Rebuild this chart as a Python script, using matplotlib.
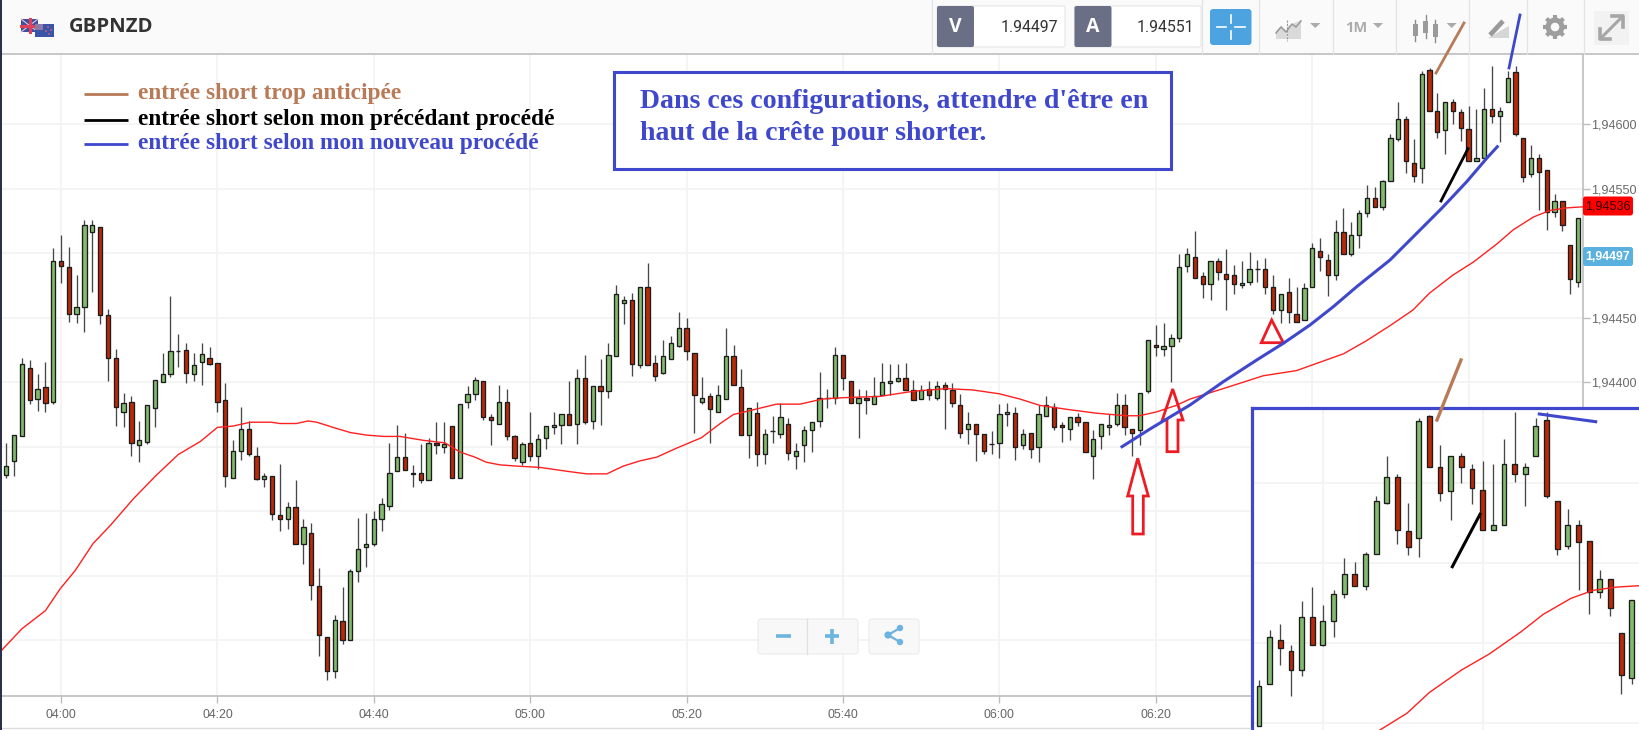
import numpy as np
import matplotlib
matplotlib.use("Agg")
import matplotlib.pyplot as plt
from matplotlib.patches import Rectangle, FancyBboxPatch, Polygon, Circle

W, H = 1639, 730
BASE, POINT = 1.94, 1e-5

# Candle values, in points above 1.94000, one candle per minute
opens = [328,339,358,411,387,396,385,494,489,453,458,516,520,452,419,377,385,351,354,380,400,406,424,425,406,416,419,415,386,326,347,364,343,325,327,297,294,303,275,283,242,203,176,215,200,254,272,275,294,304,331,
 342,330,330,324,353,350,366,326,385,391,401,373,368,385,358,338,353,343,357,365,367,375,368,403,370,397,393,420,461,464,413,474,415,407,418,428,442,423,385,389,377,387,420,396,359,376,344,362,360,368,343,
 351,363,370,388,388,421,401,384,388,383,390,399,401,403,394,387,395,388,398,394,382,364,368,360,352,353,375,376,351,361,350,374,381,367,364,373,369,343,358,365,368,382,364,363,393,429,426,428,
 434,490,497,482,476,494,484,483,475,478,488,488,474,456,470,453,448,474,502,495,483,516,499,514,531,543,536,556,588,604,570,566,642,610,595,617,609,596,571,574,612,606,617,640,589,561,574,564,532,540,506,478]
highs = [353,359,419,417,406,416,504,514,505,483,526,526,520,457,426,392,389,370,382,402,423,467,437,430,423,430,427,415,399,355,381,370,350,330,327,337,307,324,294,291,256,203,220,241,255,295,299,300,310,353,367,
 361,336,352,357,369,369,366,383,397,404,401,375,398,395,359,354,377,360,366,377,375,401,410,421,397,418,430,475,467,469,474,492,421,433,436,454,450,423,404,392,398,442,429,410,380,385,364,374,384,372,353,
 366,369,408,395,427,421,401,395,394,404,415,414,414,415,402,398,401,401,400,399,391,377,368,360,362,383,384,381,364,361,382,389,384,369,373,376,369,363,368,375,392,391,364,392,433,444,446,437,
 499,504,517,485,494,496,503,491,494,501,495,496,483,468,481,474,477,508,512,499,526,535,524,533,553,551,557,592,617,606,588,641,643,624,617,619,612,614,612,628,645,613,641,645,589,584,577,564,546,540,506,527]
lows = [326,327,358,383,378,377,383,477,447,446,439,470,445,401,366,365,343,338,352,365,400,404,412,399,401,398,413,377,319,326,340,343,324,319,293,285,286,275,259,231,188,169,171,197,200,245,257,273,285,301,331,
 332,319,322,324,344,345,326,326,380,386,371,351,368,355,339,336,339,333,348,360,352,367,352,368,364,367,388,420,445,405,411,413,401,406,418,427,417,361,383,353,377,387,398,359,341,335,337,353,357,340,333,
 338,346,365,380,383,394,384,357,375,383,390,390,400,394,386,387,386,386,364,381,357,352,339,344,344,341,366,340,348,341,338,374,363,354,355,366,346,325,348,359,366,359,343,351,392,420,420,400,
 431,485,481,465,464,479,456,468,473,475,478,468,453,446,446,447,448,474,486,467,479,499,498,504,528,536,533,556,587,562,555,554,610,589,577,600,587,571,571,574,601,586,617,591,555,559,533,518,528,517,468,474]
closes = [335,359,414,386,395,384,494,490,453,458,522,522,452,419,381,384,353,355,382,402,406,424,424,407,413,422,414,385,327,347,364,344,325,327,298,294,303,275,288,243,204,176,216,200,254,271,275,294,306,330,342,
 332,329,324,353,351,352,326,383,391,402,373,371,385,358,341,352,343,356,366,367,375,367,403,369,397,393,421,468,464,414,474,413,405,420,430,442,424,390,388,379,390,420,398,359,380,344,360,362,373,345,347,
 363,369,388,388,421,403,384,388,386,389,400,401,403,394,386,394,390,397,395,384,361,368,360,347,352,375,377,350,360,348,375,382,365,365,373,369,346,356,368,367,382,365,361,392,433,427,428,434,
 489,499,481,476,494,485,480,476,477,488,488,474,456,468,454,447,473,504,497,483,516,499,514,531,543,536,556,589,604,571,560,639,610,594,617,610,597,571,574,612,606,610,636,592,559,574,563,532,540,522,480,527]
first_minute = -7   # first candle, in minutes from 04:00

# Moving average: minutes from 04:00, points above 1.94000
ma_minutes = [-7.8,-5,-2,-0.1,1.8,4.1,6.3,9.3,12.2,15,17.8,20,22,24.2,26.9,28,30.1,31.6,32.7,34.8,37,39.1,41.2,43.35,46.3,49.1,51,52.9,54.4,56.1,58.3,61.25,64.7,67.2,69.8,71.9,74,76.2,78.75,81.9,84.3,86,88.1,91.5,94.5,97.4,100,104.7,109,113.2,116.6,120,122.6,125.2,128.6,132.4,136.2,137.9,140.1,142.6,144.4,148.6,153.75,158,164,166.9,170,172.9,175,178,180.6,183.6,185.7,188.3,190.4,192.5,195]
ma_values = [191,209,223,240,254,275,289,310,328,344,354,365,366,369,369,368,368,370,369,365,361,359,358,358,355,353,346,342,338,336,335,334,331,329,329,335,339,342,349,357,368,375,378,383,383,387,388,389,393,395,394,391,387,382,379,376,374,374,377,382,387,395,405,409,422,432,444,456,469,483,493,507,518,528,533,535,536]

time_labels = ["04:00","04:20","04:40","05:00","05:20","05:40","06:00","06:20","06:40","07:00"]
time_minutes = [0,20,40,60,80,100,120,140,160,180]
price_ticks = [1.942,1.9425,1.943,1.9435,1.944,1.9445,1.945,1.9455,1.946]
# labels for the lower levels and 1,94500 are covered in the reference
price_labels = ["","","","","1,94400","1,94450","","1,94550","1,94600"]

legend_labels = ["entrée short trop anticipée","entrée short selon mon précédant procédé","entrée short selon mon nouveau procédé"]
box_lines = ["Dans ces configurations, attendre d'être en","haut de la crête pour shorter."]

BROWN, BLUE, RED = "#B97A57", "#3F48CC", "#ED1C24"
GREEN_BODY, RED_BODY = "#82BA6E", "#B82A08"
GRID = "#F2F2F2"

o, h, l, c = [np.array(a, float) * POINT + BASE for a in (opens, highs, lows, closes)]
assert len(o) == len(h) == len(l) == len(c) == 202
minutes = np.arange(len(o)) + first_minute
ma_y = np.array(ma_values, float) * POINT + BASE

fig = plt.figure(figsize=(W / 100, H / 100), dpi=100, facecolor="white")


def px_axes(x0, y0, x1, y1, **kw):
    return fig.add_axes([x0 / W, 1 - y1 / H, (x1 - x0) / W, (y1 - y0) / H], **kw)


def draw_candles(ax, body_width):
    ax.vlines(minutes, l, h, color="#474747", lw=0.95, zorder=3)
    up = c > o
    dn = c < o
    for mask, col in ((up, GREEN_BODY), (dn, RED_BODY)):
        ax.bar(minutes[mask], (c - o)[mask], bottom=o[mask], width=body_width,
               color=col, edgecolor="#1c1c1c", linewidth=0.95, zorder=4)
    flat = c == o
    ax.hlines(o[flat], minutes[flat] - body_width / 2, minutes[flat] + body_width / 2,
              color="#222222", lw=1.0, zorder=4)
    ax.plot(ma_minutes, ma_y, color="#FF2020", lw=1.0, zorder=5)


# ---- main chart
mx = lambda px: (px - 61.0) / 7.82
my = lambda py: BASE + (600 - (py - 124.0) * 0.7746) * POINT
ax = px_axes(1.5, 54, 1583, 696, zorder=1)
ax.set_xticks(time_minutes, time_labels)
ax.set_yticks(price_ticks, price_labels)
ax.yaxis.tick_right()
ax.tick_params(axis="x", length=5, width=1, color="#BDBDBD", labelsize=8.9, labelcolor="#666666", pad=4)
ax.tick_params(axis="y", length=5, width=1, color="#BDBDBD", labelsize=9.1, labelcolor="#6a6a6a", pad=0.5)
for lab in ax.get_xticklabels() + ax.get_yticklabels():
    lab.set_family("Liberation Sans")
ax.grid(True, color=GRID, lw=1.2, zorder=0)
ax.set_axisbelow(True)
for s in ("top", "left"):
    ax.spines[s].set_visible(False)
for s in ("bottom", "right"):
    ax.spines[s].set_color("#BDBDBD")
    ax.spines[s].set_linewidth(1.2)
draw_candles(ax, 0.55)
ax.set_xlim(mx(1.5), mx(1583))
ax.set_ylim(my(696), my(54))

# ---- magnified copy at bottom right
IN_X0, IN_Y0 = 1252, 407.5
ix = lambda px: 159 + (px - 1259.0) / 10.65
iy = lambda py: my(70 + (py - 416.67) / 1.236)
inset = px_axes(IN_X0, IN_Y0, W + 3, H + 3, zorder=2)
inset.set_xticks([165, 180])
inset.set_yticks(price_ticks)
inset.tick_params(length=0, labelbottom=False, labelleft=False)
inset.grid(True, color=GRID, lw=1.2, zorder=0)
inset.set_axisbelow(True)
for s in inset.spines.values():
    s.set_color(BLUE)
    s.set_linewidth(2.3)
draw_candles(inset, 0.46)
inset.set_xlim(ix(IN_X0), ix(W + 3))
inset.set_ylim(iy(H + 3), iy(IN_Y0))

# ---- overlay in picture coordinates: toolbar and drawn annotations
ov = fig.add_axes([0, 0, 1, 1], zorder=5)
ov.set_xlim(0, W)
ov.set_ylim(H, 0)
ov.axis("off")
ov.patch.set_alpha(0)

rect = lambda x, y, w, hh, **k: ov.add_patch(Rectangle((x, y), w, hh, **k))
rect(0, 0, 2, H, fc="#2C2F4A", ec="none", zorder=9)
rect(0, 0, W, 54, fc="#FAFAFA", ec="none", zorder=1)
ov.plot([0, W], [54, 54], color="#BDBDBD", lw=1.2, zorder=2)
ov.plot([2, 1250], [728, 728], color="#DDDDDD", lw=1.0, zorder=2)

# flags
rect(21, 19, 17, 13, fc="#3F4FA0", ec="none", zorder=3)
ov.plot([21, 38], [25.5, 25.5], color="#E0405A", lw=2.2, zorder=4)
ov.plot([29.5, 29.5], [19, 32], color="#E0405A", lw=2.2, zorder=4)
ov.plot([21, 38], [19, 32], color="#E8C8D0", lw=0.8, zorder=3.5)
ov.plot([21, 38], [32, 19], color="#E8C8D0", lw=0.8, zorder=3.5)
rect(35, 24, 19, 13, fc="#3A55A8", ec="none", zorder=5)
rect(35, 24, 8, 6, fc="#8C7AA8", ec="none", zorder=6)
for fx, fy in ((48, 27), (51, 30), (46, 31), (49, 34)):
    ov.add_patch(Circle((fx, fy), 0.9, fc="#E86070", ec="none", zorder=6))
ov.text(69, 27.5, "GBPNZD", family="Open Sans", weight="bold", fontsize=14.6, color="#333333",
        va="center", ha="left", zorder=6)

# bid / ask boxes
for x0, x1, lab, val in ((937, 1065, "V", "1.94497"), (1074.5, 1201, "A", "1.94551")):
    ov.add_patch(FancyBboxPatch((x0, 6), x1 - x0, 41, boxstyle="round,pad=0,rounding_size=2",
                                fc="white", ec="#E6E6E6", lw=0.8, zorder=3))
    ov.add_patch(FancyBboxPatch((x0, 6), 37, 41, boxstyle="round,pad=0,rounding_size=2",
                                fc="#6B6F86", ec="none", zorder=4))
    ov.text(x0 + 18.5, 27.5, lab, color="white", family="Open Sans", weight="bold", fontsize=14,
            ha="center", va="center", zorder=5)
    ov.text(x1 - 7, 27, val, color="#333333", family="Roboto", fontsize=11.4, ha="right", va="center", zorder=5)

ov.add_patch(FancyBboxPatch((1210, 9), 41.5, 36, boxstyle="round,pad=0,rounding_size=3",
                            fc="#4DA3DF", ec="none", zorder=3))
for seg in (((1217, 1226), (27, 27)), ((1235, 1245), (27, 27)), ((1230.5, 1230.5), (15, 23)), ((1230.5, 1230.5), (31, 39))):
    ov.plot(seg[0], seg[1], color="white", lw=1.2, zorder=4)
for sx in (931.5, 1202, 1259, 1333, 1395.6, 1469, 1527, 1584):
    ov.plot([sx, sx], [0, 54], color="#E3E3E3", lw=0.9, zorder=2)

def tri(x0, x1, y0=23, y1=28, col="#ABABAB"):
    ov.add_patch(Polygon([(x0, y0), (x1, y0), ((x0 + x1) / 2, y1)], fc=col, ec="none", zorder=4))
# chart-type icon
ov.add_patch(Polygon([(1276, 39), (1276, 31), (1281, 26), (1287, 31), (1287, 39)], fc="#DADADA", ec="none", zorder=3))
ov.add_patch(Polygon([(1288, 39), (1288, 26), (1301, 20), (1301, 39)], fc="#DADADA", ec="none", zorder=3))
ov.plot([1276, 1281, 1286, 1292, 1296, 1301], [33, 27, 32, 24, 27, 21], color="#9A9A9A", lw=1.1, zorder=4)
ov.plot([1287, 1287], [20, 41], color="#9A9A9A", lw=0.8, ls=(0, (2, 1)), zorder=4)
tri(1310, 1320.5)
ov.text(1356, 28, "1M", family="Open Sans", weight="bold", fontsize=10.5, color="#ABABAB", ha="center", va="center", zorder=4)
tri(1373, 1383)
# candle icon
for cx, t, b, wt, wb in ((1415, 24, 36, 20, 41), (1425.5, 21, 33, 15, 38), (1435, 24, 37, 20, 42)):
    ov.plot([cx, cx], [wt, wb], color="#8C8C8C", lw=1.0, zorder=4)
    rect(cx - 2.5, t, 5, b - t, fc="#9A9A9A", ec="none", zorder=5)
tri(1446.6, 1456.7)
# drawing icon
ov.add_patch(Polygon([(1488, 38), (1509, 38), (1509, 26)], fc="#D6D6D6", ec="none", zorder=3))
ov.plot([1490, 1503], [35, 21], color="#9A9A9A", lw=3.4, solid_capstyle="butt", zorder=4)
# gear
for ang in np.arange(0, np.pi, np.pi / 4):
    ov.plot([1555 - 12 * np.cos(ang), 1555 + 12 * np.cos(ang)], [27 - 12 * np.sin(ang), 27 + 12 * np.sin(ang)],
            color="#9E9E9E", lw=3.0, solid_capstyle="butt", zorder=4)
ov.add_patch(Circle((1555, 27), 9.5, fc="#9E9E9E", ec="none", zorder=5))
ov.add_patch(Circle((1555, 27), 4.3, fc="#FAFAFA", ec="none", zorder=6))
# expand
rect(1594, 11, 35, 34, fc="#F2F2F2", ec="none", zorder=3)
ov.plot([1602, 1620], [37, 19], color="#A6A6A6", lw=2.2, zorder=4)
ov.plot([1600, 1600, 1610], [29, 39, 39], color="#A6A6A6", lw=2.6, zorder=4)
ov.plot([1612, 1623, 1623], [16, 16, 27], color="#A6A6A6", lw=2.6, zorder=4)

# price tags
ov.add_patch(FancyBboxPatch((1583, 196.5), 50, 19, boxstyle="round,pad=0,rounding_size=2.5", fc="#FF0000", ec="none", zorder=3))
ov.text(1608, 206.5, "1,94536", family="Liberation Sans", fontsize=9.1, color="#330000", ha="center", va="center", zorder=4)
ov.add_patch(FancyBboxPatch((1583, 247), 50, 19, boxstyle="round,pad=0,rounding_size=2.5", fc="#5AB0DE", ec="none", zorder=3))
ov.text(1608, 256.5, "1,94497", family="Liberation Sans", weight="bold", fontsize=8.9, color="white", ha="center", va="center", zorder=4)

# legend
for (yl, yt), lab, col in zip(((94.3, 93.5), (120, 119.5), (144, 144)), legend_labels, (BROWN, "black", BLUE)):
    ov.plot([83.5, 127.5], [yl, yl], color=col, lw=2.0, solid_capstyle="butt", zorder=3)
    ov.text(138, yt, lab, color=col, family="Liberation Serif", weight="bold", fontsize=16.85, ha="left", va="center", zorder=3)

# message box
rect(614, 72, 557, 97, fc="white", ec=BLUE, lw=2.2, zorder=3)
ov.text(640, 101, box_lines[0], color=BLUE, family="Liberation Serif", weight="bold", fontsize=20.05, ha="left", va="center", zorder=4)
ov.text(640, 134, box_lines[1], color=BLUE, family="Liberation Serif", weight="bold", fontsize=20.05, ha="left", va="center", zorder=4)

# hand-drawn annotations
ov.plot([1464, 1436], [23, 73], color=BROWN, lw=2.0, zorder=7)
ov.plot([1461, 1437], [360, 420], color=BROWN, lw=2.4, zorder=7)
ov.plot([1520, 1509], [15, 68], color=BLUE, lw=2.0, zorder=7)
ov.plot([1539.3, 1595.7], [414, 421.7], color=BLUE, lw=2.2, zorder=7)
ov.plot([1468, 1441], [148.7, 201], color="black", lw=2.0, zorder=7)
ov.plot([1480, 1452.3], [514.3, 566.7], color="black", lw=2.2, zorder=7)
curve_x = [1122, 1150, 1170, 1190, 1223.3, 1256.7, 1283.3, 1310, 1333.3, 1356.7, 1390, 1403.3, 1423.3, 1441.7, 1466.7, 1486.7, 1497.3]
curve_y = [446.7, 429, 417, 405, 381.7, 360, 343.3, 325, 306.7, 286.7, 260, 246.7, 226.7, 208.3, 181.7, 158.3, 146.7]
ov.plot(curve_x, curve_y, color=BLUE, lw=2.2, zorder=7)

arrow1 = [(1137.7, 458.3), (1148.3, 496), (1143.3, 496), (1143.3, 534), (1132.7, 534), (1132.7, 496), (1127.7, 496)]
arrow2 = [(1172.7, 389), (1183, 420), (1178, 420), (1178, 451.7), (1167, 451.7), (1167, 420), (1162.3, 420)]
triangle = [(1271.7, 320), (1283.3, 342.7), (1261.3, 342.7)]
for shape in (arrow1, arrow2, triangle):
    ov.add_patch(Polygon(shape, closed=True, fc="none", ec=RED, lw=2.0, joinstyle="miter", zorder=6))

# zoom buttons
for x0, x1 in ((758, 858), (869, 919)):
    ov.add_patch(FancyBboxPatch((x0, 619), x1 - x0, 35, boxstyle="round,pad=0,rounding_size=3",
                                fc="#F8F8F8", ec="#EBEBEB", lw=0.9, alpha=0.9, zorder=3))
ov.plot([807, 807], [619, 654], color="#E0E0E0", lw=0.9, zorder=4)
ZB = "#6CB4DF"
ov.plot([776, 791], [636, 636], color=ZB, lw=2.6, solid_capstyle="butt", zorder=4)
ov.plot([824.5, 839], [636, 636], color=ZB, lw=2.6, solid_capstyle="butt", zorder=4)
ov.plot([832, 832], [628.5, 643.5], color=ZB, lw=2.6, solid_capstyle="butt", zorder=4)
ov.plot([900, 888, 900], [628, 635, 642], color=ZB, lw=1.6, zorder=4)
for bx, by, br in ((900, 628, 3.2), (888, 635, 3.6), (900, 642, 3.2)):
    ov.add_patch(Circle((bx, by), br, fc=ZB, ec="none", zorder=5))

fig.savefig("out.png", dpi=100, facecolor="white")
